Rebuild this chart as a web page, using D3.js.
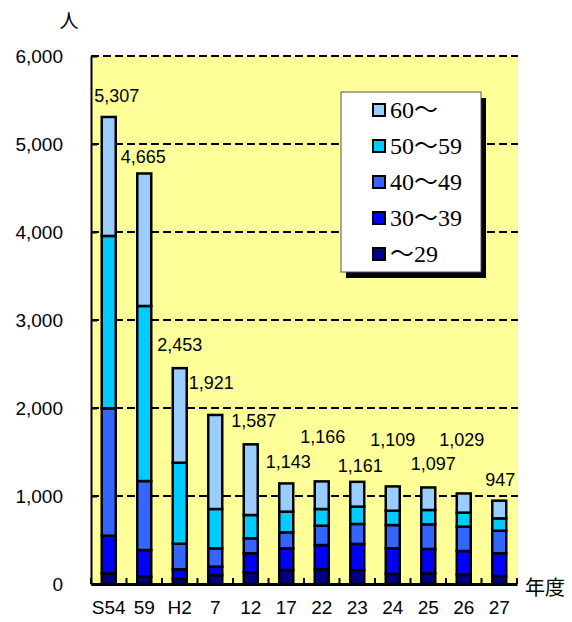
<!DOCTYPE html>
<html><head><meta charset="utf-8">
<script src="https://cdn.jsdelivr.net/npm/d3@7"></script>
<style>
html,body{margin:0;padding:0;background:#fff;}
svg{display:block;}
.legend-text{font-family:"Liberation Serif","Noto Sans CJK JP",serif;}
</style></head>
<body>
<svg id="chart" width="572" height="622"></svg>
<script>
// ---- data ----
const categories = ["S54","59","H2","7","12","17","22","23","24","25","26","27"];
const ageGroups = ["～29","30～39","40～49","50～59","60～"];
const under29   = [121, 83, 57, 102, 133, 159, 170, 159, 114, 121, 110, 91];
const age30s    = [428, 303, 110, 95, 216, 246, 273, 296, 291, 277, 265, 258];
const age40s    = [1447, 784, 291, 208, 170, 182, 220, 227, 265, 280, 277, 257];
const age50s    = [1959, 1989, 920, 447, 265, 235, 189, 197, 163, 163, 159, 140];
const age60plus = [1352, 1506, 1075, 1069, 803, 321, 314, 282, 276, 256, 218, 201];
const totals    = [5307, 4665, 2453, 1921, 1587, 1143, 1166, 1161, 1109, 1097, 1029, 947];
const yTicks = [0, 1000, 2000, 3000, 4000, 5000, 6000];
const yUnit = "人";
const xUnit = "年度";

// ---- layout / style (not data) ----
const colors = ["#000080", "#0000FF", "#3366FF", "#00CCFF", "#99CCFF"];
const labelOffsets = [[8,-21],[-1,-16],[0,-23],[-4,-32],[3,-23],[2,-21],[1,-44],[3,-16],[0,-46],[5,-23],[-2,-53],[1,-21]];
const plot = {left: 91, right: 517, top: 56, bottom: 584};

const series = [under29, age30s, age40s, age50s, age60plus];
const table = categories.map((c, i) => {
  const row = {cat: c};
  ageGroups.forEach((g, k) => row[g] = series[k][i]);
  return row;
});

const svg = d3.select("#chart");
const x = d3.scaleBand().domain(categories).range([plot.left, plot.right]);
const y = d3.scaleLinear().domain([0, 6000]).range([plot.bottom, plot.top]);

// plot background
svg.append("rect").attr("x", plot.left).attr("y", plot.top)
  .attr("width", plot.right - plot.left + 1).attr("height", plot.bottom - plot.top)
  .attr("fill", "#FFFF99");

// gridlines
svg.append("g").selectAll("line").data(yTicks.filter(d => d > 0)).join("line")
  .attr("x1", plot.left).attr("x2", plot.right + 1)
  .attr("y1", d => y(d)).attr("y2", d => y(d))
  .attr("stroke", "#000").attr("stroke-width", 2).attr("stroke-dasharray", "8,4");

// y axis
const yAxis = svg.append("g").attr("transform", `translate(${plot.left},0)`)
  .call(d3.axisLeft(y).tickValues(yTicks).tickFormat(d3.format(",")).tickSizeInner(-6).tickSizeOuter(0).tickPadding(28));
yAxis.select(".domain").attr("stroke", "#000").attr("stroke-width", 2);
yAxis.selectAll(".tick line").attr("stroke", "#000").attr("stroke-width", 2);
yAxis.selectAll("text").attr("font-family", "'Liberation Sans', Arial, sans-serif").attr("font-size", 19).attr("fill", "#000");

// stacked bars
const stacked = d3.stack().keys(ageGroups)(table);
const barW = 14;
svg.append("g").selectAll("g").data(stacked).join("g")
  .attr("fill", (d, k) => colors[k])
  .selectAll("rect").data(d => d).join("rect")
  .attr("x", d => x(d.data.cat) + x.bandwidth() / 2 - barW / 2)
  .attr("width", barW)
  .attr("y", d => y(d[1]))
  .attr("height", d => y(d[0]) - y(d[1]))
  .attr("stroke", "#000").attr("stroke-width", 2.5);

// x axis
const xAxis = svg.append("g").attr("transform", `translate(0,${plot.bottom})`)
  .call(d3.axisBottom(x).tickSize(0).tickPadding(17));
xAxis.select(".domain").attr("stroke", "#000").attr("stroke-width", 3);
xAxis.selectAll("text").attr("font-family", "'Liberation Sans', Arial, sans-serif").attr("font-size", 19).attr("fill", "#000");
// category boundary ticks
const bounds = categories.map(c => x(c)).concat([plot.right]);
svg.append("g").selectAll("line").data(bounds).join("line")
  .attr("x1", d => d).attr("x2", d => d)
  .attr("y1", plot.bottom).attr("y2", plot.bottom - 6)
  .attr("stroke", "#000").attr("stroke-width", 2);

// totals labels
svg.append("g").selectAll("text").data(totals).join("text")
  .attr("x", (d, i) => x(categories[i]) + x.bandwidth() / 2 + labelOffsets[i][0])
  .attr("y", (d, i) => y(d) + labelOffsets[i][1])
  .attr("text-anchor", "middle").attr("dominant-baseline", "central")
  .attr("font-family", "'Liberation Sans', Arial, sans-serif").attr("font-size", 18).attr("fill", "#000")
  .text(d => d3.format(",")(d));

// unit labels
svg.append("text").attr("x", 69).attr("y", 19).attr("text-anchor", "middle").attr("dominant-baseline", "central")
  .attr("font-family", "'Noto Sans CJK JP', sans-serif").attr("font-size", 19).text(yUnit);
svg.append("text").attr("x", 525).attr("y", 586).attr("dominant-baseline", "central")
  .attr("font-family", "'Noto Sans CJK JP', sans-serif").attr("font-size", 20).text(xUnit);

// legend
const lg = {x: 341, y: 92, w: 140, h: 180};
svg.append("rect").attr("x", lg.x + 5).attr("y", lg.y + 6).attr("width", lg.w).attr("height", lg.h).attr("fill", "#000");
svg.append("rect").attr("x", lg.x).attr("y", lg.y).attr("width", lg.w).attr("height", lg.h)
  .attr("fill", "#fff").attr("stroke", "#555").attr("stroke-width", 1);
const legendOrder = ageGroups.map((g, k) => ({g, k})).reverse();
const items = svg.append("g").selectAll("g").data(legendOrder).join("g")
  .attr("transform", (d, i) => `translate(${lg.x + 32},${lg.y + 18 + i * 36})`);
items.append("rect").attr("x", 0).attr("y", -6).attr("width", 12).attr("height", 12)
  .attr("fill", d => colors[d.k]).attr("stroke", "#000").attr("stroke-width", 2);
items.append("text").attr("class", "legend-text").attr("x", 17).attr("y", 0).attr("dominant-baseline", "central")
  .attr("font-size", 24).attr("fill", "#000").text(d => d.g);
</script>
</body></html>
